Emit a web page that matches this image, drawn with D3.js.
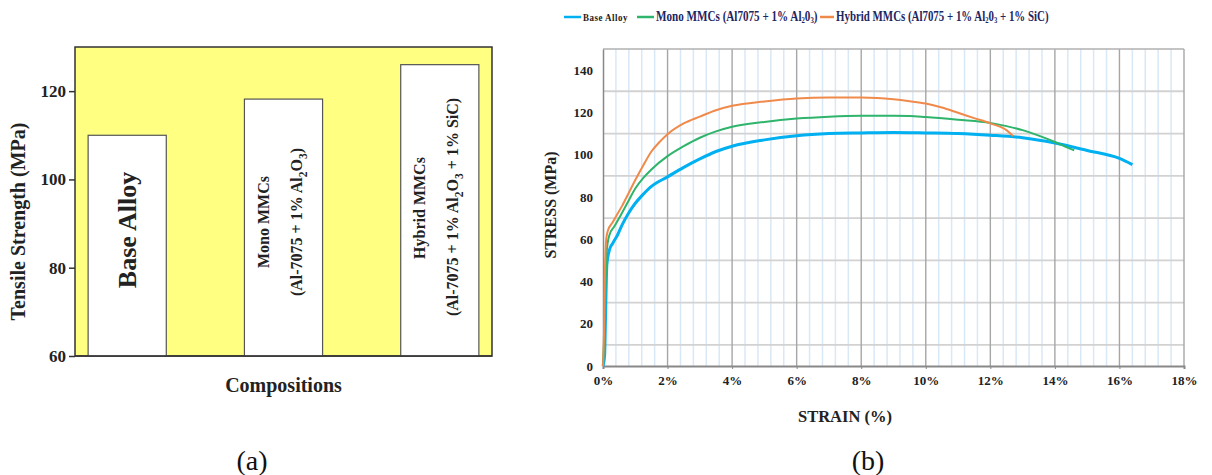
<!DOCTYPE html>
<html>
<head>
<meta charset="utf-8">
<script src="https://cdn.jsdelivr.net/npm/d3@7"></script>
<style>
  body { margin: 0; background: #fff; }
  svg { display: block; }
  text { font-family: "Liberation Serif", "Times New Roman", serif; }
</style>
</head>
<body>
<svg id="chart" width="1212" height="475"></svg>
<script>
// ---- (a) bar chart data
const categories = ["Base Alloy", "Mono MMCs", "Hybrid MMCs"];
const tensile = [110, 118.2, 126];
const barTicks = [60, 80, 100, 120];

// ---- (b) stress-strain data (strain in %, stress in MPa)
const baseStrain = [0, 0.05, 0.08, 0.12, 0.2, 0.3, 0.45, 0.6, 0.8, 1.0, 1.2, 1.5, 2, 2.5, 3, 3.5, 4, 5, 6, 7, 8, 9, 10, 11, 12, 13, 14, 15, 16, 16.4];
const baseStress = [0, 5, 25, 48, 55, 58, 62, 67, 72.5, 77, 80.5, 85, 89.5, 94, 98, 101.5, 104, 107, 109, 110, 110.3, 110.5, 110.3, 110, 109.2, 108, 105.5, 102, 98.2, 95.3];
const monoStrain = [0, 0.05, 0.08, 0.12, 0.2, 0.35, 0.5, 0.75, 1, 1.25, 1.5, 2, 2.5, 3, 3.5, 4, 5, 6, 7, 8, 9, 9.5, 10, 11, 12, 12.5, 13, 13.5, 14, 14.3, 14.6];
const monoStress = [0, 20, 40, 55, 62, 66, 70, 77, 84, 89, 93, 99.3, 104, 108, 111, 113.2, 115.5, 117.1, 118, 118.4, 118.4, 118.3, 117.8, 116.5, 115, 113.5, 111.6, 109, 106, 104, 102];
const hybStrain = [0, 0.03, 0.06, 0.1, 0.15, 0.3, 0.45, 0.6, 0.8, 1, 1.25, 1.5, 1.75, 2, 2.5, 3, 3.5, 4, 5, 6, 7, 8, 8.5, 9, 9.5, 10, 10.5, 11, 11.5, 12, 12.5, 12.7];
const hybStress = [0, 15, 45, 60, 64, 68, 72, 76, 82, 88, 95, 101.5, 106, 109.7, 114.8, 118, 121, 123.1, 125.2, 126.6, 127, 127, 126.8, 126.2, 125.3, 124.2, 122.3, 119.8, 117.3, 114.8, 111.6, 108.8];
const strainTicks = [0, 2, 4, 6, 8, 10, 12, 14, 16, 18];
const stressTicks = [0, 20, 40, 60, 80, 100, 120, 140];

const seriesNames = ["Base Alloy", "Mono MMCs (Al7075 + 1% Al", "Hybrid MMCs (Al7075 + 1% Al"];
const seriesColors = ["#00b0f0", "#2eb46b", "#f08a4b"];

const svg = d3.select("#chart");

// ================= (a) =================
const a = { left: 75, right: 492, top: 47, bottom: 356 };

const xBand = d3.scaleBand()
  .domain(categories)
  .range([a.left, a.right])
  .paddingInner(0.5)
  .paddingOuter(0.084);

const yBar = d3.scaleLinear()
  .domain([60, 130])
  .range([a.bottom, a.top]);

svg.append("rect")
  .attr("x", a.left).attr("y", a.top)
  .attr("width", a.right - a.left).attr("height", a.bottom - a.top)
  .attr("fill", "#ffff82")
  .attr("stroke", "#333").attr("stroke-width", 1.5);

svg.append("g").selectAll("rect")
  .data(tensile)
  .join("rect")
  .attr("x", (d, i) => xBand(categories[i]))
  .attr("y", d => yBar(d))
  .attr("width", xBand.bandwidth())
  .attr("height", d => yBar(60) - yBar(d))
  .attr("fill", "#fff")
  .attr("stroke", "#555").attr("stroke-width", 1.2);

// frame bottom line drawn over the bars
svg.append("line")
  .attr("x1", a.left).attr("x2", a.right)
  .attr("y1", a.bottom).attr("y2", a.bottom)
  .attr("stroke", "#333").attr("stroke-width", 1.5);

const yAxisA = svg.append("g")
  .attr("transform", `translate(${a.left},0)`)
  .call(d3.axisLeft(yBar).tickValues(barTicks).tickSize(6).tickPadding(3));
yAxisA.select(".domain").remove();
yAxisA.selectAll("line").attr("stroke", "#333").attr("stroke-width", 1.5);
yAxisA.selectAll("text")
  .style("font-family", '"Liberation Serif", serif')
  .style("font-size", "17px").style("font-weight", "bold").attr("fill", "#222");

svg.append("text")
  .attr("transform", `translate(25,${(a.top + a.bottom) / 2 + 20}) rotate(-90)`)
  .attr("text-anchor", "middle")
  .style("font-size", "20px").style("font-weight", "bold").attr("fill", "#222")
  .text("Tensile Strength (MPa)");

svg.append("text")
  .attr("x", (a.left + a.right) / 2).attr("y", 392)
  .attr("text-anchor", "middle")
  .style("font-size", "20px").style("font-weight", "bold").attr("fill", "#222")
  .text("Compositions");

svg.append("text")
  .attr("x", 252).attr("y", 470)
  .attr("text-anchor", "middle")
  .style("font-size", "28px").attr("fill", "#111")
  .text("(a)");

// labels inside bars, rotated; parts with sub:true are subscripts
function rotLabel(x, y, parts, size) {
  const t = svg.append("text")
    .attr("transform", `translate(${x},${y}) rotate(-90)`)
    .attr("text-anchor", "middle")
    .style("font-size", size + "px").style("font-weight", "bold").attr("fill", "#222");
  let shifted = false;
  parts.forEach(p => {
    const s = t.append("tspan").text(p.t);
    if (p.sub && !shifted) { s.attr("dy", 5).style("font-size", (size * 0.72) + "px"); shifted = true; }
    else if (p.sub) { s.style("font-size", (size * 0.72) + "px"); }
    else if (shifted) { s.attr("dy", -5); shifted = false; }
  });
}

const bw = xBand.bandwidth();
rotLabel(xBand(categories[0]) + bw / 2 + 9, 230, [{ t: "Base Alloy" }], 26);
rotLabel(xBand(categories[1]) + bw / 2 - 15, 222, [{ t: "Mono MMCs" }], 16);
rotLabel(xBand(categories[1]) + bw / 2 + 18, 222,
  [{ t: "(Al-7075 + 1% Al" }, { t: "2", sub: true }, { t: "O" }, { t: "3", sub: true }, { t: ")" }], 16);
rotLabel(xBand(categories[2]) + bw / 2 - 15, 208, [{ t: "Hybrid MMCs" }], 16);
rotLabel(xBand(categories[2]) + bw / 2 + 18, 207,
  [{ t: "(Al-7075 + 1% Al" }, { t: "2", sub: true }, { t: "O" }, { t: "3", sub: true }, { t: " + 1% SiC)" }], 16);

// ================= (b) =================
const b = { left: 603, right: 1184, top: 49, bottom: 366 };

const xS = d3.scaleLinear().domain([0, 18]).range([b.left, b.right]);
const yS = d3.scaleLinear().domain([0, 150]).range([b.bottom, b.top]);

const grid = svg.append("g");
// minor vertical grid every 0.4%
grid.selectAll(".vmin")
  .data(d3.range(0, 18.01, 0.4).filter(v => Math.abs(v / 2 - Math.round(v / 2)) > 0.01))
  .join("line")
  .attr("x1", d => xS(d)).attr("x2", d => xS(d))
  .attr("y1", b.top).attr("y2", b.bottom)
  .attr("stroke", "#d9e8f6").attr("stroke-width", 1.5);
// horizontal grid at odd tens
grid.selectAll(".hgrid")
  .data([10, 30, 50, 70, 90, 110, 130])
  .join("line")
  .attr("x1", b.left).attr("x2", b.right)
  .attr("y1", d => yS(d)).attr("y2", d => yS(d))
  .attr("stroke", "#d2d2d2").attr("stroke-width", 1.8);
// major vertical grid every 2%
grid.selectAll(".vmaj")
  .data(strainTicks.slice(1))
  .join("line")
  .attr("x1", d => xS(d)).attr("x2", d => xS(d))
  .attr("y1", b.top).attr("y2", b.bottom)
  .attr("stroke", "#a6a6a6").attr("stroke-width", 1.4);
// top border
grid.append("line")
  .attr("x1", b.left).attr("x2", b.right)
  .attr("y1", b.top).attr("y2", b.top)
  .attr("stroke", "#b0b0b0").attr("stroke-width", 1.5);

const xAxisB = svg.append("g")
  .attr("transform", `translate(0,${b.bottom})`)
  .call(d3.axisBottom(xS).tickValues(strainTicks).tickFormat(d => d + "%").tickSize(3).tickPadding(7));
xAxisB.select(".domain").attr("stroke", "#888").attr("stroke-width", 2);
xAxisB.selectAll("line").attr("stroke", "#888");
xAxisB.selectAll("text")
  .style("font-family", '"Liberation Serif", serif')
  .style("font-size", "13px").style("font-weight", "bold").attr("fill", "#222");

const yAxisB = svg.append("g")
  .attr("transform", `translate(${b.left},0)`)
  .call(d3.axisLeft(yS).tickValues(stressTicks).tickSize(0).tickPadding(10));
yAxisB.select(".domain").attr("stroke", "#888").attr("stroke-width", 1.5);
yAxisB.selectAll("text")
  .style("font-family", '"Liberation Serif", serif')
  .style("font-size", "13px").style("font-weight", "bold").attr("fill", "#222");

const line = d3.line()
  .x(d => xS(d[0]))
  .y(d => yS(d[1]))
  .curve(d3.curveMonotoneX);

const series = [
  d3.zip(baseStrain, baseStress),
  d3.zip(monoStrain, monoStress),
  d3.zip(hybStrain, hybStress)
];
const widths = [3, 2, 2];

svg.append("g").selectAll("path")
  .data(series)
  .join("path")
  .attr("d", line)
  .attr("fill", "none")
  .attr("stroke", (d, i) => seriesColors[i])
  .attr("stroke-width", (d, i) => widths[i]);

svg.append("text")
  .attr("transform", `translate(556,205) rotate(-90)`)
  .attr("text-anchor", "middle")
  .style("font-size", "16px").style("font-weight", "bold").attr("fill", "#222")
  .text("STRESS (MPa)");

svg.append("text")
  .attr("x", 845).attr("y", 422)
  .attr("text-anchor", "middle")
  .style("font-size", "16.5px").style("font-weight", "bold").attr("fill", "#222")
  .text("STRAIN (%)");

svg.append("text")
  .attr("x", 868).attr("y", 470)
  .attr("text-anchor", "middle")
  .style("font-size", "28px").attr("fill", "#111")
  .text("(b)");

// legend: positions and text widths as in the original figure
const legX = [564, 637, 820];
const legLen = [17, 17, 14];
const legW = [45, 162, 213];
const legend = svg.append("g");
legend.selectAll("line")
  .data(seriesColors)
  .join("line")
  .attr("x1", (d, i) => legX[i]).attr("x2", (d, i) => legX[i] + legLen[i])
  .attr("y1", 17).attr("y2", 17)
  .attr("stroke", d => d).attr("stroke-width", 2.5);

seriesNames.forEach((name, i) => {
  const g = legend.append("g");
  const t = g.append("text")
    .attr("x", 0).attr("y", 0)
    .style("font-weight", "bold")
    .attr("fill", i === 0 ? "#1a1a1a" : "#1f2560");
  if (i === 0) {
    t.style("font-size", "11px").style("letter-spacing", "0.6px").text(name);
  } else {
    t.style("font-size", "14px");
    t.append("tspan").text(name);
    t.append("tspan").attr("dy", 2).style("font-size", "8.5px").text("2");
    t.append("tspan").attr("dy", -2).text("0");
    t.append("tspan").attr("dy", 2).style("font-size", "8.5px").text("3");
    t.append("tspan").attr("dy", -2).text(i === 1 ? ")" : " + 1% SiC)");
  }
  const w = t.node().getBBox().width;
  g.attr("transform", `translate(${legX[i] + legLen[i] + 2},21) scale(${legW[i] / w},1)`);
});
</script>
</body>
</html>
